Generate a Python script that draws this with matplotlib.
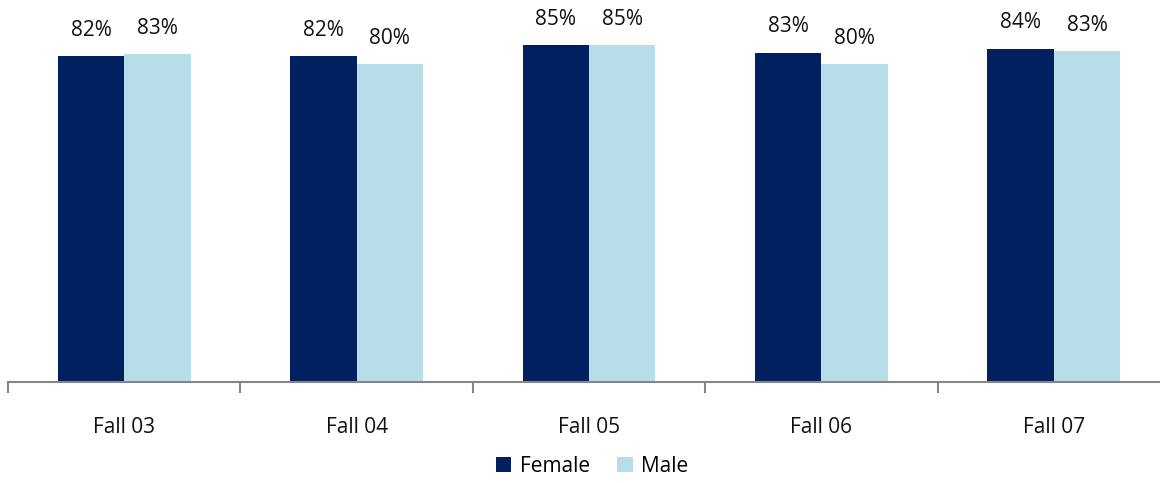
import matplotlib.pyplot as plt
import numpy as np

categories = ['Fall 03', 'Fall 04', 'Fall 05', 'Fall 06', 'Fall 07']
female = [82, 82, 85, 83, 84]
male = [83, 80, 85, 80, 83]
female_top = [82.2, 82.2, 85.0, 83.1, 84.1]
male_top = [82.8, 80.3, 85.0, 80.3, 83.5]

plt.rcParams['font.family'] = ['Open Sans', 'DejaVu Sans']

fig = plt.figure(figsize=(11.6, 4.83), dpi=100)
ax = fig.add_axes([8 / 1160, 1 - 382 / 483, 1162 / 1160, 382 / 483])

x = np.arange(len(categories))
w = 0.286
navy = '#002060'
light = '#B7DEE8'

b1 = ax.bar(x - w / 2, female_top, w, color=navy, label='Female')
b2 = ax.bar(x + w / 2, male_top, w, color=light, label='Male')

for bars, vals in ((b1, female), (b2, male)):
    for b, v in zip(bars, vals):
        ax.annotate(f'{v}%', (b.get_x() + b.get_width() / 2, b.get_height()),
                    xytext=(0, 11), textcoords='offset points',
                    ha='center', va='bottom', fontsize=15, color='#111111')

ax.set_xlim(-0.5, 4.5)
ax.set_ylim(0, 96.4)
ax.set_xticks(np.arange(-0.5, 5.0, 1.0))
ax.set_xticklabels([])
ax.set_xticks(x, minor=True)
ax.set_xticklabels(categories, minor=True, fontsize=15, color='#111111')
ax.tick_params(axis='x', which='major', length=8, color='#868686', width=1.5)
ax.tick_params(axis='x', which='minor', length=0, pad=25)
ax.set_yticks([])
for s in ['top', 'right', 'left']:
    ax.spines[s].set_visible(False)
ax.spines['bottom'].set_color('#868686')
ax.spines['bottom'].set_linewidth(1.5)

fig.legend(handles=[b1, b2], loc='center', bbox_to_anchor=(592 / 1160, 1 - 466 / 483),
           ncol=2, frameon=False, fontsize=15, handlelength=0.75, handleheight=0.75,
           handletextpad=0.4, columnspacing=1.3)

fig.savefig('out.png', dpi=100)
